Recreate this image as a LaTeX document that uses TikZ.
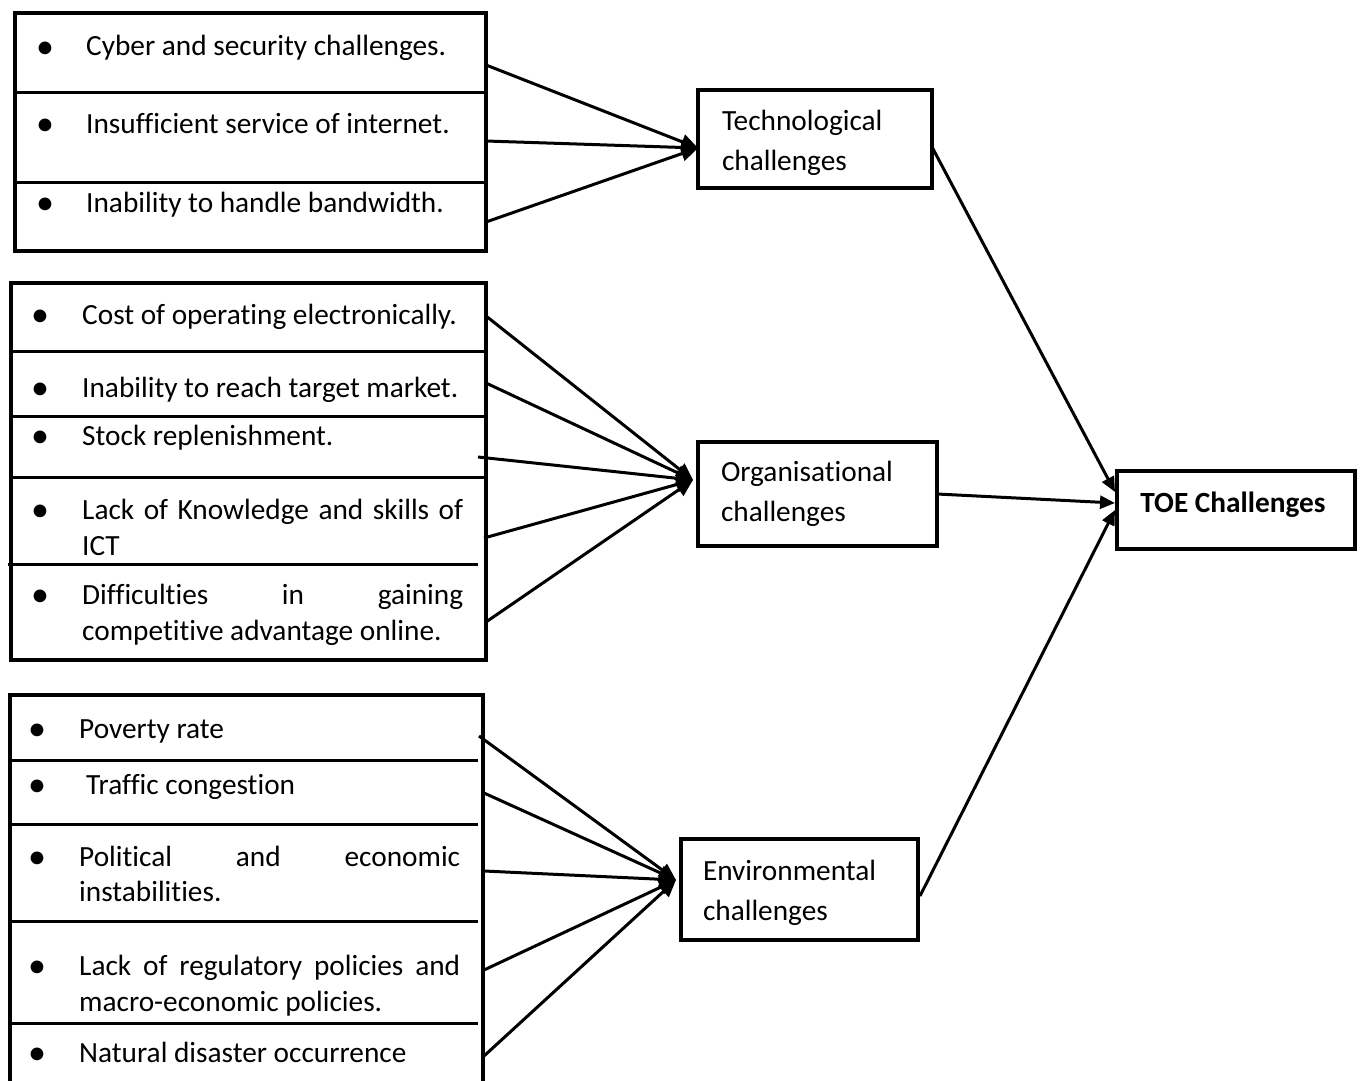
\documentclass[tikz,border=0pt]{standalone}
\usepackage{fontspec}
\setmainfont{Carlito}[Ligatures=CommonOff]
\usetikzlibrary{arrows.meta}
\newcommand\jline[1]{\hbox to 381pt{#1}}
\begin{document}
\begin{tikzpicture}[x=1pt,y=-1pt,
  box/.style={draw,line width=4pt,inner sep=0pt},
  div/.style={line width=3pt},
  txt/.style={anchor=base west,inner sep=0pt,font=\fontsize{29.3}{36}\selectfont},
  bul/.style={anchor=base,inner sep=0pt,yshift=-2.3pt,font=\fontsize{36}{36}\selectfont},
  chal/.style={draw,line width=4pt,align=left,inner ysep=0pt,font=\fontsize{29.3}{40}\selectfont},
  arr/.style={line width=3pt,-{Triangle[length=17pt,width=15pt]}},
  arrs/.style={line width=3pt,-{Triangle[length=15pt,width=13pt]}},
]
\useasboundingbox (0,0) rectangle (1361,1081);

% ---------- Group 1 ----------
\node[box,minimum width=471,minimum height=238] (g1) at (250.5,132) {};
\draw[div] (15,93) -- (488,93);
\draw[div] (15,182) -- (488,182);
\node[bul] (b11) at (45,56) {•};
\node[txt] (t11) at (86,56) {Cyber and security challenges.};
\node[bul] (b12) at (45,133) {•};
\node[txt] (t12) at (86,133) {Insufficient service of internet.};
\node[bul] (b13) at (45,212) {•};
\node[txt] (t13) at (86,212) {Inability to handle bandwidth.};

% ---------- Group 2 ----------
\node[box,minimum width=475,minimum height=377] (g2) at (248.5,471.5) {};
\draw[div] (13,351) -- (484,351);
\draw[div] (13,416) -- (484,416);
\draw[div] (11,477) -- (484,477);
\draw[div] (8,564) -- (478,564);
\node[bul] (b21) at (40,324) {•};
\node[txt] (t21) at (82,324) {Cost of operating electronically.};
\node[bul] (b22) at (40,397) {•};
\node[txt] (t22) at (82,397) {Inability to reach target market.};
\node[bul] (b23) at (40,445) {•};
\node[txt] (t23) at (82,445) {Stock replenishment.};
\node[bul] (b24) at (40,519) {•};
\node[txt] (t24a) at (82,519) {\jline{Lack\hfill of\hfill Knowledge\hfill and\hfill skills\hfill of}};
\node[txt] (t24b) at (82,555) {ICT};
\node[bul] (b25) at (40,604) {•};
\node[txt] (t25a) at (82,604) {\jline{Difficulties\hfill in\hfill gaining}};
\node[txt] (t25b) at (82,640) {competitive advantage online.};

% ---------- Group 3 ----------
\node[box,minimum width=473,minimum height=410] (g3) at (246.5,900) {};
\draw[div] (10,760) -- (478,760);
\draw[div] (10,824) -- (478,824);
\draw[div] (10,921) -- (478,921);
\draw[div] (10,1023) -- (478,1023);
\node[bul] (b31) at (37,738) {•};
\node[txt] (t31) at (79,738) {Poverty rate};
\node[bul] (b32) at (37,794) {•};
\node[txt] (t32) at (86,794) {Traffic congestion};
\node[bul] (b33) at (37,866) {•};
\node[txt] (t33a) at (79,866) {\jline{Political\hfill and\hfill economic}};
\node[txt] (t33b) at (79,901) {instabilities.};
\node[bul] (b34) at (37,975) {•};
\node[txt] (t34a) at (79,975) {\jline{Lack\hfill of\hfill regulatory\hfill policies\hfill and}};
\node[txt] (t34b) at (79,1011) {macro-economic policies.};
\node[bul] (b35) at (37,1062) {•};
\node[txt] (t35) at (79,1062) {Natural disaster occurrence};

% ---------- Challenge boxes ----------
\node[chal,text width=186,inner xsep=24,minimum height=98] (tech) at (815,139) {\rule{0pt}{29pt}Technological\\challenges};
\node[chal,text width=193,inner xsep=23,minimum height=104] (org) at (817.5,494) {Organisational\\challenges};
\node[chal,text width=193,inner xsep=22,minimum height=101] (env) at (799.5,889.5) {\rule{0pt}{27pt}Environmental\\challenges};
\node[box,minimum width=238,minimum height=78] (toe) at (1236,510) {};
\node[anchor=base,inner sep=0pt,font=\fontsize{29.3}{36}\selectfont\bfseries] (toet) at (1233,512) {TOE Challenges};

% ---------- Connector end points ----------
\coordinate (s11) at (486,65);
\coordinate (s12) at (486,141);
\coordinate (s13) at (486,222);
\coordinate (pt) at (698,148);
\coordinate (s21) at (486,316);
\coordinate (s22) at (486,383);
\coordinate (s23) at (478,457);
\coordinate (s24) at (484,538);
\coordinate (s25) at (486,622);
\coordinate (po) at (693,480);
\coordinate (s31) at (479,736);
\coordinate (s32) at (484,793);
\coordinate (s33) at (484,871);
\coordinate (s34) at (484,970);
\coordinate (s35) at (484,1056);
\coordinate (pe) at (676,880);
\coordinate (st) at (932,147);
\coordinate (so) at (937,494);
\coordinate (se) at (920,896);
\coordinate (q1) at (1115,492);
\coordinate (q2) at (1115,503);
\coordinate (q3) at (1115,510);

\foreach \s in {s11,s12,s13} \draw[arr] (\s) -- (pt);
\foreach \s in {s21,s22,s23,s24,s25} \draw[arr] (\s) -- (po);
\foreach \s in {s31,s32,s33,s34,s35} \draw[arr] (\s) -- (pe);
\draw[arrs] (st) -- (q1);
\draw[arrs] (so) -- (q2);
\draw[arrs] (se) -- (q3);
\end{tikzpicture}
\end{document}
